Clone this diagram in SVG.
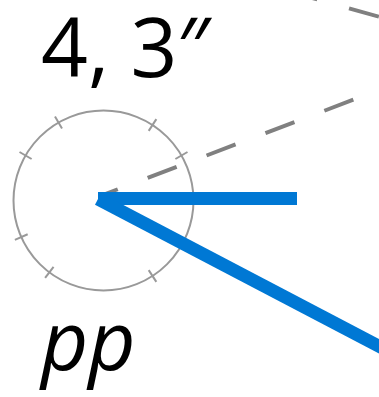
<svg xmlns="http://www.w3.org/2000/svg" width="379" height="397" viewBox="0 0 379 397">
<style>
.lbl{font-family:"Open Sans","Noto Sans","Liberation Sans",sans-serif;font-size:82px;fill:#000}
.dial{fill:none;stroke:#999;stroke-width:2}
.tick{stroke:#999;stroke-width:2}
.dash{stroke:#808080;stroke-width:4;stroke-dasharray:31 32;fill:none}
.ray{stroke:#0078D4;stroke-width:13;fill:none}
</style>
<rect width="379" height="397" fill="#fff"/>
<g id="dial">
<circle class="dial" cx="103.5" cy="200.5" r="90"/>
<g transform="translate(103.5 200.5)">
<line class="tick" x1="83" y1="0" x2="97" y2="0" transform="rotate(-30)"/>
<line class="tick" x1="83" y1="0" x2="97" y2="0" transform="rotate(-57)"/>
<line class="tick" x1="83" y1="0" x2="97" y2="0" transform="rotate(-120)"/>
<line class="tick" x1="83" y1="0" x2="97" y2="0" transform="rotate(-150)"/>
<line class="tick" x1="83" y1="0" x2="97" y2="0" transform="rotate(28)"/>
<line class="tick" x1="83" y1="0" x2="97" y2="0" transform="rotate(57)"/>
<line class="tick" x1="83" y1="0" x2="97" y2="0" transform="rotate(127)"/>
<line class="tick" x1="83" y1="0" x2="97" y2="0" transform="rotate(156)"/>
</g>
</g>
<g id="connectors">
<line class="dash" x1="100" y1="196" x2="390" y2="85.8" stroke-dashoffset="12"/>
<line class="dash" x1="287.4" y1="-8.95" x2="400" y2="22.6" style="stroke-dasharray:31 33"/>
<line class="ray" x1="98" y1="198.5" x2="297" y2="198.5"/>
<line class="ray" x1="98" y1="199" x2="382" y2="347.8"/>
</g>
<g id="label-top"><text class="lbl" x="41" y="77">4, 3″</text></g>
<g id="label-bottom"><text class="lbl" x="41" y="370" font-size="86" font-style="italic">pp</text></g>
</svg>
